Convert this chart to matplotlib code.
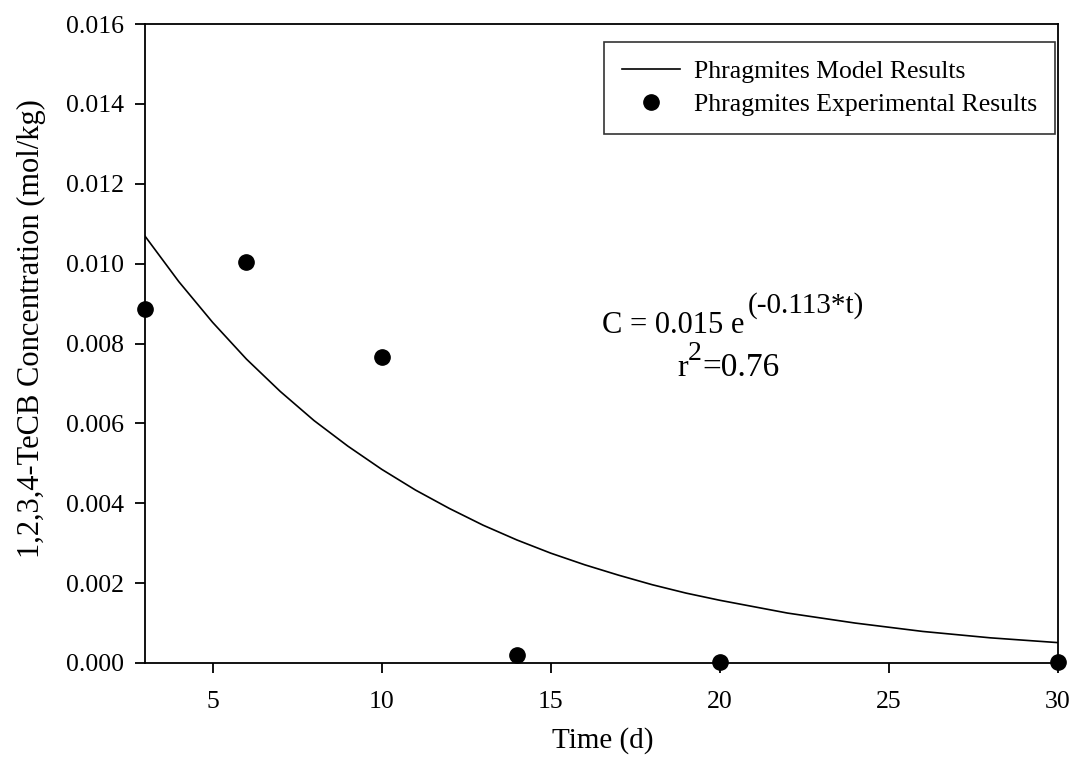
import matplotlib
matplotlib.use("Agg")
import matplotlib.pyplot as plt

t_exp = [3, 6, 10, 14, 20, 30]
c_exp = [0.00887, 0.01005, 0.00765, 0.00020, 0.00002, 0.00002]

# Model curve, values
t_model = [3, 4, 5, 6, 7, 8, 9, 10, 11, 12, 13, 14, 15, 16, 17, 18, 19, 20,
           22, 24, 26, 28, 30]
c_model = [0.01069, 0.00955, 0.00853, 0.00761, 0.00680, 0.00607, 0.00543,
           0.00485, 0.00433, 0.00387, 0.00345, 0.00308, 0.00275, 0.00246,
           0.00220, 0.00196, 0.00175, 0.00157, 0.00125, 0.00100, 0.00079,
           0.00063, 0.00051]

x_ticks = [5, 10, 15, 20, 25, 30]
y_ticks = [0.000, 0.002, 0.004, 0.006, 0.008, 0.010, 0.012, 0.014, 0.016]

plt.rcParams['font.family'] = ['Liberation Serif', 'DejaVu Serif']

fig = plt.figure(figsize=(10.77, 7.72), dpi=100)
ax = fig.add_axes([0.1346, 0.1412, 0.8478, 0.8277])

ax.plot(t_model, c_model, color='black', lw=1.2, label='Phragmites Model Results')
ax.plot(t_exp, c_exp, 'o', color='black', ms=11, clip_on=False, zorder=5,
        label='Phragmites Experimental Results')

ax.set_xlim(3, 30)
ax.set_ylim(0, 0.016)
ax.set_xticks(x_ticks)
ax.set_yticks(y_ticks)
ax.set_yticklabels([f'{v:.3f}' for v in y_ticks])
for s in ax.spines.values():
    s.set_linewidth(1.3)
ax.tick_params(direction='out', length=7, width=1.3, labelsize=18.5, pad=8)
ax.tick_params(axis='x', pad=13)

ax.set_xlabel('Time (d)', fontsize=21)
ax.xaxis.set_label_coords(0.501, -0.1)
ax.set_ylabel('1,2,3,4-TeCB Concentration (mol/kg)', fontsize=22)
ax.yaxis.set_label_coords(-0.108, 0.523)

leg = ax.legend(loc='upper right', bbox_to_anchor=(0.9967, 0.9718),
                borderaxespad=0, fontsize=18.5, frameon=True, fancybox=False,
                edgecolor='black', handlelength=2.25, handletextpad=0.55,
                borderpad=0.7, labelspacing=0.38)
leg.get_frame().set_linewidth(1.2)

# equation annotation
fig.text(0.559, 0.5687, 'C = 0.015 e', fontsize=22, ha='left', va='baseline')
fig.text(0.694, 0.5946, '(-0.113*t)', fontsize=21, ha='left', va='baseline')
fig.text(0.6286, 0.513, 'r', fontsize=23, ha='left', va='baseline')
fig.text(0.6388, 0.534, '2', fontsize=20, ha='left', va='baseline')
fig.text(0.6518, 0.513, '=0.76', fontsize=24, ha='left', va='baseline')

fig.savefig('out.png', dpi=100)
